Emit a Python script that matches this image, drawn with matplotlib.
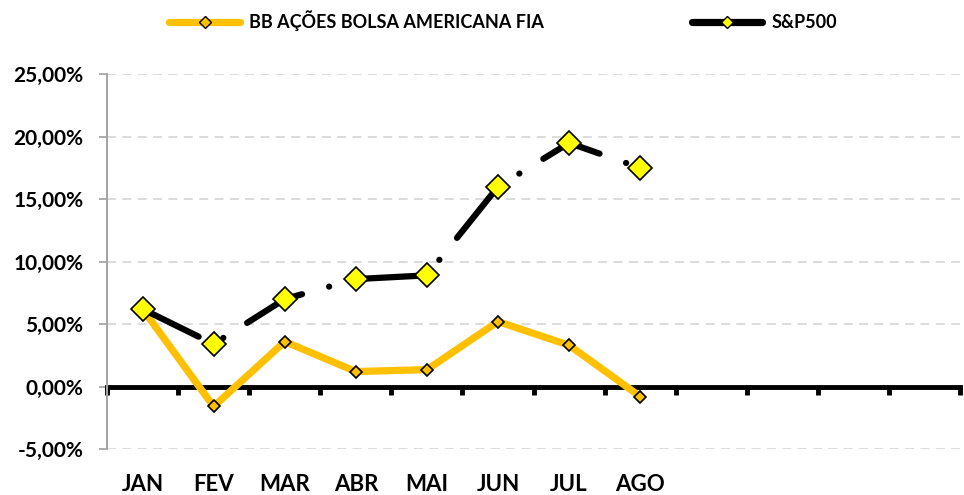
import matplotlib
matplotlib.use("Agg")
import matplotlib.pyplot as plt
import numpy as np
from matplotlib.ticker import FuncFormatter, FixedLocator

plt.rcParams['font.family'] = ['Lato', 'DejaVu Sans']
plt.rcParams['font.weight'] = 'bold'

months = ["JAN", "FEV", "MAR", "ABR", "MAI", "JUN", "JUL", "AGO", "", "", "", ""]
bb_values = [6.2, -1.6, 3.6, 1.2, 1.35, 5.2, 3.3, -0.8]
sp_values = [6.2, 3.4, 7.0, 8.6, 8.9, 16.0, 19.5, 17.5]
series_names = ["BB AÇÕES BOLSA AMERICANA FIA", "S&P500"]
y_ticks = [-5, 0, 5, 10, 15, 20, 25]

fig = plt.figure(figsize=(9.64, 4.95), dpi=100)
ax = fig.add_axes([0.111, 0.093, 0.885, 0.757])

n = len(months)
x_all = np.arange(n)
x_data = np.arange(len(bb_values))

# grid
for yv in y_ticks:
    if yv != 0:
        ax.axhline(yv, color='#d9d9d9', lw=1.3, ls=(0, (5, 3.5)), zorder=0)

orange = '#FFC000'
ax.plot(x_data, bb_values, color=orange, lw=5.2, marker='D', markersize=6.5,
        markerfacecolor=orange, markeredgecolor='black', markeredgewidth=1.2,
        solid_joinstyle='round', solid_capstyle='round', zorder=3)
ax.plot(x_data, sp_values, color='black', lw=4.5, ls=(0, (10, 4.5, 0.01, 4.5)),
        dash_capstyle='round', marker='D', markersize=12,
        markerfacecolor='#FFFF00', markeredgecolor='black', markeredgewidth=1.2,
        zorder=4)

ax.set_xlim(-0.5, n - 0.5)
ax.set_ylim(-5, 25)

for s in ['top', 'right']:
    ax.spines[s].set_visible(False)
ax.spines['left'].set_color('#a6a6a6')
ax.spines['left'].set_linewidth(1.5)
ax.spines['bottom'].set_position(('data', 0))
ax.spines['bottom'].set_color('black')
ax.spines['bottom'].set_linewidth(3.5)
ax.spines['bottom'].set_zorder(2)

ax.set_yticks(y_ticks)
ax.yaxis.set_major_formatter(FuncFormatter(lambda v, p: f"{v:.2f}%".replace('.', ',')))
ax.tick_params(axis='y', direction='out', length=6, width=1.3, color='#a6a6a6',
               labelsize=15, pad=11)

ax.xaxis.set_major_locator(FixedLocator(np.arange(n + 1) - 0.5))
ax.xaxis.set_minor_locator(FixedLocator(x_all))
ax.set_xticklabels([], minor=False)
ax.set_xticklabels(months, minor=True)
ax.tick_params(axis='x', which='major', direction='out', length=6, width=3.5, color='black')
ax.tick_params(axis='x', which='minor', length=0, labelsize=16, pad=63)
for lab in ax.get_yticklabels() + ax.get_xticklabels(minor=True):
    lab.set_fontweight('bold')

h1 = plt.Line2D([], [], color=orange, lw=5.2, marker='D', markersize=6,
                markerfacecolor=orange, markeredgecolor='black', markeredgewidth=1.0,
                solid_capstyle='round')
h2 = plt.Line2D([], [], color='black', lw=5.2, marker='D', markersize=6,
                markerfacecolor='#FFFF00', markeredgecolor='black', markeredgewidth=1.0,
                solid_capstyle='round')
fig.legend([h1, h2], series_names, loc='upper center', bbox_to_anchor=(0.522, 1.012),
           ncol=2, frameon=False, columnspacing=8.2, handlelength=3.9,
           handletextpad=0.5, prop={'weight': 'bold', 'size': 13})

fig.savefig("out.png", dpi=100)
